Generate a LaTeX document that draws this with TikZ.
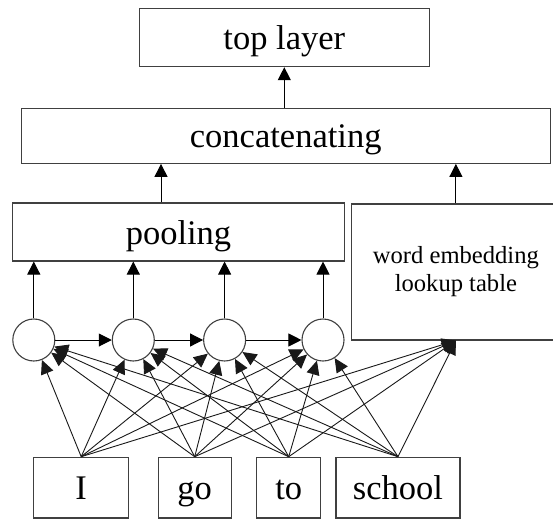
\documentclass[tikz,border=0pt]{standalone}
\usepackage{fontspec}
\setmainfont{Liberation Serif}
\usetikzlibrary{arrows.meta}
\begin{document}
\begin{tikzpicture}[x=1pt,y=-1pt,
  box/.style={draw=black!75,line width=1.1pt,inner sep=0pt,rectangle,font=\fontsize{34.5}{40}\selectfont,text height=26pt,text depth=2pt},
  cell/.style={draw=black!75,line width=1.1pt,circle,inner sep=0pt,minimum size=42pt},
  arr/.style={line width=1pt,-{Triangle[length=13pt,width=13pt]}},
  feed/.style={line width=0.9pt,black!90,-{Triangle[length=14pt,width=13pt]}}]
\clip (0,0) rectangle (553,519);
\fill[white] (0,0) rectangle (553,519);
\node[box,minimum width=290pt,minimum height=57.7pt] (top) at (284.3,37.8) {top layer};
\node[box,minimum width=528.7pt,minimum height=55.3pt] (concat) at (285.7,135.7) {concatenating};
\node[box,minimum width=331.6pt,minimum height=58pt] (pool) at (178.5,232) {pooling};
\node[draw=black!75,line width=1.1pt,inner sep=0pt,minimum width=208.3pt,minimum height=136pt,align=center,font=\fontsize{24.6}{28}\selectfont] (emb) at (455.9,272) {word embedding\\lookup table};
\node[cell] (c1) at (33.8,340) {};
\node[cell] (c2) at (133.3,340) {};
\node[cell] (c3) at (224.6,340) {};
\node[cell] (c4) at (323,340) {};
\node[box,minimum width=95pt,minimum height=60.7pt] (w1) at (81.2,487.6) {I};
\node[box,minimum width=72.7pt,minimum height=60.7pt] (w2) at (194.7,487.6) {go};
\node[box,minimum width=64pt,minimum height=60.7pt] (w3) at (288.7,487.6) {to};
\node[box,minimum width=124pt,minimum height=60.7pt] (w4) at (398,487.6) {school};
% upward arrows
\draw[arr] (top.south |- concat.north) -- (top.south);
\draw[arr] ([xshift=-17.5pt]pool.north) -- ([xshift=-17.5pt]pool.north |- concat.south);
\draw[arr] (emb.north) -- (emb.north |- concat.south);
\foreach \c in {c1,c2,c3,c4}{
  \draw[arr] (\c.north) -- (\c.north |- pool.south);
}
% recurrent arrows
\draw[arr] (c1) -- (c2);
\draw[arr] (c2) -- (c3);
\draw[arr] (c3) -- (c4);
% word feeds
\foreach \w in {w1,w2,w3,w4}{
  \foreach \c in {c1,c2,c3,c4}{
    \draw[feed] (\w.north) -- (\c);
  }
  \draw[feed] (\w.north) -- (emb.south);
}
\end{tikzpicture}
\end{document}
